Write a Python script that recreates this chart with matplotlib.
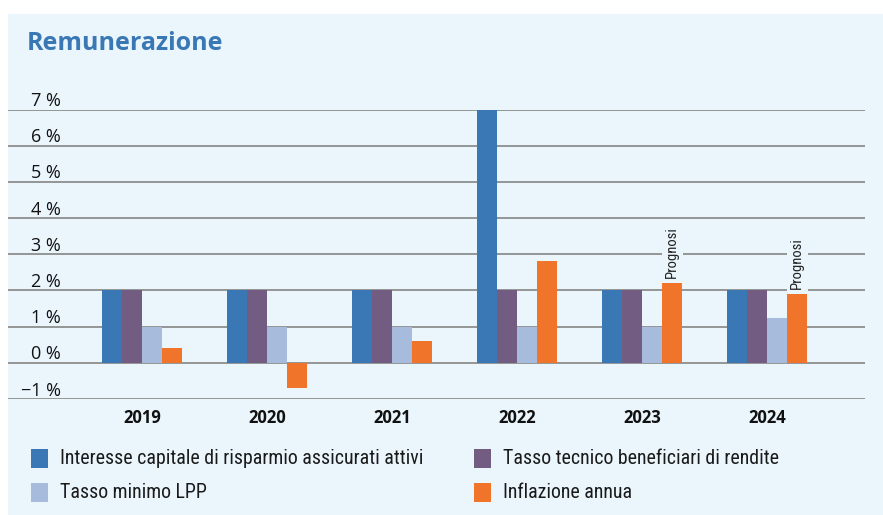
import matplotlib
matplotlib.use("Agg")
import matplotlib.pyplot as plt
import matplotlib.transforms as mtransforms
from matplotlib.patches import Rectangle
from matplotlib import font_manager
import numpy as np

years = ["2019", "2020", "2021", "2022", "2023", "2024"]
interesse = [2, 2, 2, 7, 2, 2]
tasso_tecnico = [2, 2, 2, 2, 2, 2]
tasso_minimo = [1, 1, 1, 1, 1, 1.25]
inflazione = [0.4, -0.7, 0.6, 2.8, 2.2, 1.9]
prognosi_years = ["2023", "2024"]
yticks = [-1, 0, 1, 2, 3, 4, 5, 6, 7]
ytick_labels = ["\u22121 %", "0 %", "1 %", "2 %", "3 %", "4 %", "5 %", "6 %", "7 %"]

series = [
    ("Interesse capitale di risparmio assicurati attivi", interesse, "#3A78B5"),
    ("Tasso tecnico beneficiari di rendite", tasso_tecnico, "#735C82"),
    ("Tasso minimo LPP", tasso_minimo, "#A7BCDD"),
    ("Inflazione annua", inflazione, "#F0742A"),
]

names = {f.name for f in font_manager.fontManager.ttflist}
main_font = ["Open Sans", "DejaVu Sans"] if "Open Sans" in names else ["DejaVu Sans"]
cond_font = None
for cand in ["Liberation Sans Narrow", "DejaVu Sans Condensed", "Roboto Condensed", "Open Sans Condensed"]:
    if cand in names:
        cond_font = cand
        break
if cond_font is None:
    cond_kw = dict(family=main_font)
else:
    cond_kw = dict(family=[cond_font, "DejaVu Sans"])

plt.rcParams["font.family"] = main_font

W, H = 883, 515
fig = plt.figure(figsize=(W / 100, H / 100), dpi=100, facecolor="white")
panel = "#EAF5FC"
fig.patches.append(Rectangle((8 / W, 0), 1 - 8 / W, 1 - 14 / H, transform=fig.transFigure,
                             facecolor=panel, edgecolor="none", zorder=-5))

ax = fig.add_axes([8 / W, 1 - 399 / H, (865 - 8) / W, (399 - 109.5) / H])
ax.set_facecolor("none")
ax.set_zorder(1)

x = np.arange(len(years))
bw = 0.16
offsets = np.array([-1.5, -0.5, 0.5, 1.5]) * bw
for (label, vals, col), off in zip(series, offsets):
    ax.bar(x + off, vals, width=bw, color=col, label=label, zorder=3, linewidth=0)

ax.set_xlim(-1.072, 5.784)
ax.set_ylim(-1, 7)
ax.set_yticks(yticks)
ax.set_yticklabels([])
ax.tick_params(axis="y", length=0)
ax.grid(axis="y", color="#8E8E8E", linewidth=1.3, zorder=1)
ax.set_axisbelow(True)
for s in ax.spines.values():
    s.set_visible(False)

ax.set_xticks(x)
ax.set_xticklabels(years, fontsize=12, fontweight="bold", color="#111111")
ax.tick_params(axis="x", length=0, pad=7)

# y tick labels, sitting above the gridlines
trans = mtransforms.offset_copy(
    mtransforms.blended_transform_factory(fig.transFigure, ax.transData), fig=fig, y=3.5, units="dots")
for v, lab in zip(yticks, ytick_labels):
    ax.text(61 / W, v, lab, transform=trans, ha="right", va="baseline", fontsize=13,
            color="#111111", family=main_font)

# Prognosi labels
ptrans = mtransforms.offset_copy(ax.transData, fig=fig, y=5, units="dots")
for yr in prognosi_years:
    i = years.index(yr)
    ax.text(x[i] + offsets[3], inflazione[i], "Prognosi", transform=ptrans, rotation=90,
            ha="center", va="bottom", fontsize=10.5, color="#222222", zorder=4,
            bbox=dict(facecolor=panel, edgecolor="none", pad=2.5), **cond_kw)

# Title
fig.text(27 / W, 1 - 50 / H, "Remunerazione", fontsize=18, fontweight="bold", color="#3A78B5",
         va="baseline", ha="left")

# Legend (manual)
pos = [(31, 458), (474, 458), (31, 492), (474, 492)]
order = [0, 1, 2, 3]
for (px, py), k in zip(pos, order):
    label, vals, col = series[k]
    fig.patches.append(Rectangle((px / W, 1 - (py + 9.5) / H), 17 / W, 19 / H,
                                 transform=fig.transFigure, facecolor=col, edgecolor="none", zorder=2))
    fig.text((px + 29) / W, 1 - py / H, label, fontsize=14.3, ha="left", va="center",
             color="#1a1a1a", **cond_kw)

fig.savefig("out.png", dpi=100, facecolor="white")
